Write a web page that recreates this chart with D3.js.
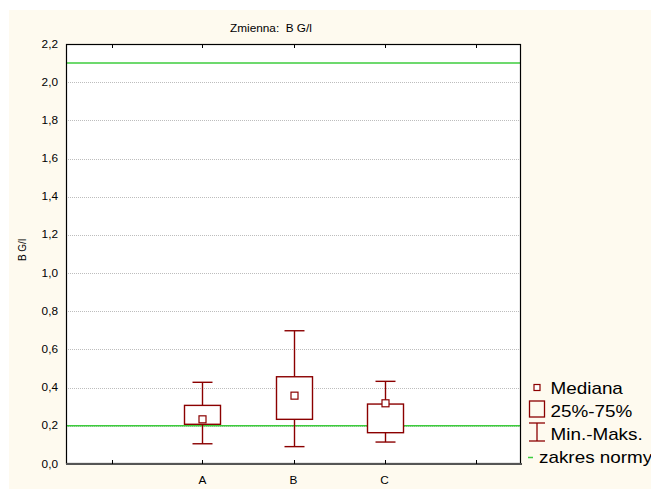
<!DOCTYPE html>
<html>
<head>
<meta charset="utf-8">
<script src="https://cdn.jsdelivr.net/npm/d3@7"></script>
<style>
  body { margin: 0; background: #fff; }
  text { font-family: Arial, "Liberation Sans", sans-serif; fill: #000; white-space: pre; }
</style>
</head>
<body>
<div id="chart"></div>
<script>
// values
const categories = ['A', 'B', 'C'];
const mins    = [0.106, 0.091, 0.115];
const q1      = [0.208, 0.234, 0.164];
const medians = [0.234, 0.358, 0.318];
const q3      = [0.307, 0.457, 0.314];
const maxs    = [0.428, 0.698, 0.433];
const normRange = [0.2, 2.1];
const yTicks = d3.range(0, 2.21, 0.2);
const xTickPos = [0, 1, 2, 3, 4];
const title = 'Zmienna:  B G/l';
const yTitle = 'B G/l';
const legendLabels = ['Mediana', '25%-75%', 'Min.-Maks.', 'zakres normy'];

const W = 651, H = 489;
const plot = { left: 66, right: 521, top: 44, bottom: 464 };
const red = '#8b0000', green = '#3ccc3c';
const stretch = 1.18; // the picture's text is a bit wider than plain Arial

const svg = d3.select('#chart').append('svg')
  .attr('width', W).attr('height', H);

svg.append('rect')
  .attr('x', 9).attr('y', 10).attr('width', W - 9).attr('height', H - 10)
  .attr('fill', '#fefaef');

const x = d3.scaleLinear().domain([-0.5, 4.5]).range([plot.left, plot.right]);
const y = d3.scaleLinear().domain([0, 2.2]).range([plot.bottom, plot.top]);
const fmt = v => d3.format('.1f')(v).replace('.', ',');

// wide text helper
function label(g, px, py, str, size, anchor) {
  return g.append('text')
    .attr('transform', `translate(${px},${py}) scale(${stretch},1)`)
    .attr('font-size', size)
    .attr('text-anchor', anchor || 'start')
    .attr('xml:space', 'preserve')
    .text(str);
}

svg.append('rect')
  .attr('x', plot.left).attr('y', plot.top)
  .attr('width', plot.right - plot.left).attr('height', plot.bottom - plot.top)
  .attr('fill', '#fff');

// gridlines
svg.append('g')
  .selectAll('line')
  .data(yTicks.filter(t => t > 0.01 && t < 2.19))
  .join('line')
  .attr('x1', plot.left).attr('x2', plot.right)
  .attr('y1', d => Math.round(y(d)) + 0.5).attr('y2', d => Math.round(y(d)) + 0.5)
  .attr('stroke', '#bdbdbd').attr('stroke-width', 1).attr('stroke-dasharray', '1,1');

// y tick labels
const yLab = svg.append('g');
yTicks.forEach(t => label(yLab, 58, y(t) + 3.5, fmt(t), 10, 'end'));

// norm lines
svg.append('g')
  .selectAll('line')
  .data(normRange)
  .join('line')
  .attr('x1', plot.left).attr('x2', plot.right)
  .attr('y1', d => y(d)).attr('y2', d => y(d))
  .attr('stroke', green).attr('stroke-width', 1.5);

// frame
svg.append('rect')
  .attr('x', plot.left + 0.5).attr('y', plot.top + 0.5)
  .attr('width', plot.right - plot.left - 1).attr('height', plot.bottom - plot.top - 1)
  .attr('fill', 'none').attr('stroke', '#000').attr('stroke-width', 1.2);
svg.append('line')
  .attr('x1', plot.left).attr('x2', plot.right + 1)
  .attr('y1', plot.bottom).attr('y2', plot.bottom)
  .attr('stroke', '#555').attr('stroke-width', 2);

// x ticks, top and bottom, pointing in
const xt = svg.append('g').attr('stroke', '#000').attr('stroke-width', 1);
xTickPos.forEach(p => {
  const px = Math.round(x(p)) + 0.5;
  xt.append('line').attr('x1', px).attr('x2', px).attr('y1', plot.bottom).attr('y2', plot.bottom - 4);
  xt.append('line').attr('x1', px).attr('x2', px).attr('y1', plot.top).attr('y2', plot.top + 4);
});
const xLab = svg.append('g');
categories.forEach((c, i) => label(xLab, x(i + 1), 483.5, c, 10, 'middle'));

// boxes
const boxW = 36, capW = 20, medS = 7;
const boxes = svg.append('g').attr('stroke', red).attr('fill', '#fff');
categories.forEach((c, i) => {
  const cx = Math.round(x(i + 1)) + 0.5;
  const g = boxes.append('g');
  g.append('line').attr('x1', cx).attr('x2', cx).attr('y1', y(maxs[i])).attr('y2', y(mins[i]))
    .attr('stroke-width', 1.4);
  [mins[i], maxs[i]].forEach(v => g.append('line')
    .attr('x1', cx - capW / 2).attr('x2', cx + capW / 2)
    .attr('y1', y(v)).attr('y2', y(v)).attr('stroke-width', 1.4));
  g.append('rect')
    .attr('x', cx - boxW / 2).attr('y', y(q3[i]))
    .attr('width', boxW).attr('height', y(q1[i]) - y(q3[i]))
    .attr('stroke-width', 1.4);
  g.append('rect')
    .attr('x', cx - medS / 2).attr('y', y(medians[i]) - medS / 2)
    .attr('width', medS).attr('height', medS)
    .attr('stroke-width', 1.2);
});

// titles
label(svg, 271, 31.5, title, 10, 'middle');
svg.append('text')
  .attr('transform', `translate(26,250) rotate(-90) scale(1,${stretch})`)
  .attr('font-size', 10).attr('text-anchor', 'middle')
  .text(yTitle);

// legend
const lg = svg.append('g');
lg.append('rect').attr('x', 534).attr('y', 384.5).attr('width', 6).attr('height', 6)
  .attr('fill', '#fff').attr('stroke', red).attr('stroke-width', 1.2);
lg.append('rect').attr('x', 529.5).attr('y', 401).attr('width', 15).attr('height', 16)
  .attr('fill', 'none').attr('stroke', red).attr('stroke-width', 1.3);
lg.append('line').attr('x1', 537).attr('x2', 537).attr('y1', 423).attr('y2', 441)
  .attr('stroke', red).attr('stroke-width', 1.3);
[423, 441].forEach(v => lg.append('line').attr('x1', 529).attr('x2', 545)
  .attr('y1', v).attr('y2', v).attr('stroke', red).attr('stroke-width', 1.3));
lg.append('line').attr('x1', 528).attr('x2', 533).attr('y1', 457.5).attr('y2', 457.5)
  .attr('stroke', green).attr('stroke-width', 1.5);
const ly = [394.3, 416.7, 440.3, 463];
legendLabels.forEach((t, i) => label(lg, i === 3 ? 539 : 550.5, ly[i], t, 16));
</script>
</body>
</html>
